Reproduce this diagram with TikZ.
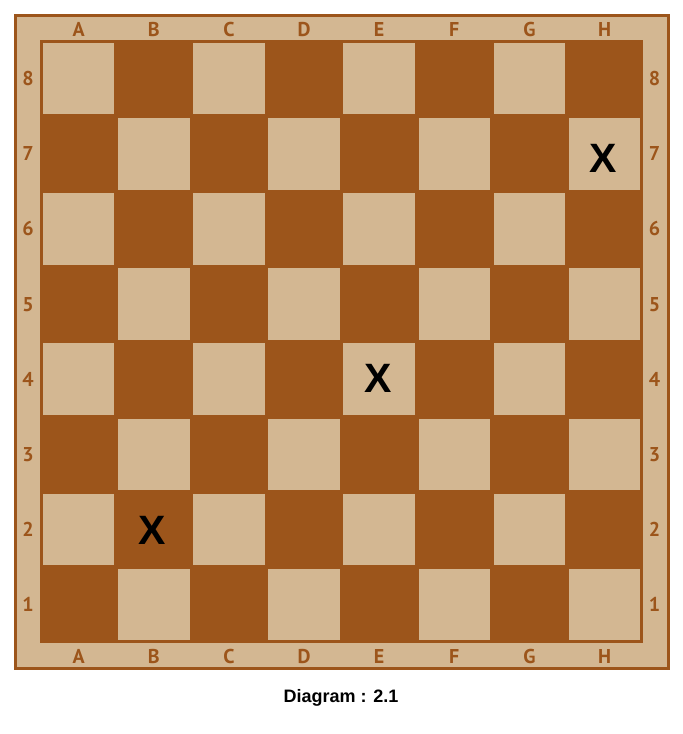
\documentclass[tikz,border=0pt]{standalone}
\usepackage{fontspec}
\setmainfont{Liberation Sans}[BoldFont={Liberation Sans Bold}]
\newfontfamily\lblfont{PT Sans}[BoldFont={PT Sans Bold}]
\definecolor{darksq}{RGB}{156,85,27}
\definecolor{lightsq}{RGB}{211,183,146}
\tikzset{
  lbl/.style={text=darksq, font=\lblfont\fontsize{20}{20}\selectfont\bfseries, inner sep=0pt, text height=14pt, text depth=0pt},
  xmark/.style={font=\fontsize{41}{41}\selectfont\bfseries, inner sep=0pt, text=black},
}
\begin{document}
\begin{tikzpicture}[x=1pt,y=-1pt]
\useasboundingbox (0,0) rectangle (683,734);
\fill[white] (0,0) rectangle (683,734);
% frame
\draw[draw=darksq, line width=3pt, fill=lightsq] (15.5,15.5) rectangle (668,668);
% board
\fill[darksq] (40,40) rectangle (642.5,643);
\foreach \c in {0,...,7}{
  \foreach \r in {0,...,7}{
    \pgfmathtruncatemacro{\parity}{mod(\c+\r,2)}
    \ifnum\parity=0
      \fill[lightsq] ({41+75.15*\c+1.8},{41+75.15*\r+1.8}) rectangle ({41+75.15*(\c+1)-1.8},{41+75.15*(\r+1)-1.8});
    \fi
  }
}
% labels
\foreach \L [count=\i from 0] in {A,B,C,D,E,F,G,H}{
  \node[lbl] (top\L) at ({41+75.15*(\i+0.5)},29) {\L};
  \node[lbl] (bot\L) at ({41+75.15*(\i+0.5)},656) {\L};
}
\foreach \N [count=\i from 0] in {8,7,6,5,4,3,2,1}{
  \node[lbl] (left\N) at (28,{41+75.15*(\i+0.5)}) {\N};
  \node[lbl] (right\N) at (654.5,{41+75.15*(\i+0.5)}) {\N};
}
% marks
\node[xmark] (xh7) at (603,158) {X};
\node[xmark] (xe4) at (378,378) {X};
\node[xmark] (xb2) at (152,530) {X};
% caption
\node[font=\fontsize{18}{18}\selectfont\bfseries, inner sep=0pt] (cap) at (341,698) {Diagram : 2.1};
\end{tikzpicture}
\end{document}
